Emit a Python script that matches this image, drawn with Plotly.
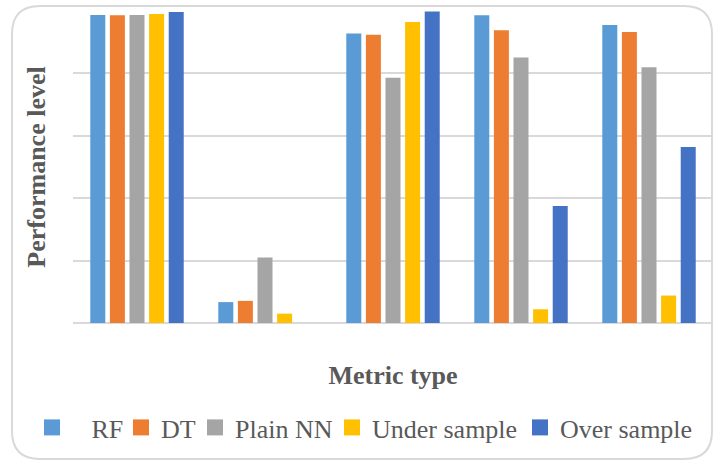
import plotly.graph_objects as go

# ---- data ----
categories = ["Metric 1", "Metric 2", "Metric 3", "Metric 4", "Metric 5"]
series_names = ["RF", "DT", "Plain NN", "Under sample", "Over sample"]
rf = [0.987, 0.067, 0.928, 0.986, 0.955]
dt = [0.986, 0.071, 0.924, 0.938, 0.933]
plain_nn = [0.987, 0.210, 0.786, 0.851, 0.820]
under_sample = [0.990, 0.030, 0.965, 0.044, 0.088]
over_sample = [0.997, 0.0, 0.998, 0.375, 0.564]
y_ticks = [0, 0.2, 0.4, 0.6, 0.8, 1.0]

series_values = [rf, dt, plain_nn, under_sample, over_sample]
colors = ["#5B9BD5", "#ED7D31", "#A5A5A5", "#FFC000", "#4472C4"]
legend_labels = ["\u00a0\u00a0\u00a0RF", "DT", "Plain NN", "Under sample", "Over sample"]
legend_symbol_px = [52, 141, 215, 352, 540]   # legend entry positions (pixels)

FONT = "Liberation Serif, Times New Roman, serif"
W, H = 714, 461
ML, MR, MT, MB = 73, 1, 11, 138
PW, PH = W - ML - MR, H - MT - MB

def fx(p):
    return (p - ML) / PW

def fy(p):
    return (H - MB - p) / PH

fig = go.Figure()
for name, vals, col in zip(series_names, series_values, colors):
    fig.add_trace(go.Bar(x=categories, y=vals, name=name, marker_color=col,
                         marker_line_width=0, showlegend=False, legendgroup=name))

legend_layouts = {}
for i, (name, lab, col, sx) in enumerate(zip(series_names, legend_labels, colors, legend_symbol_px)):
    key = "legend" if i == 0 else f"legend{i + 1}"
    fig.add_trace(go.Scatter(x=[None], y=[None], mode="markers", name=lab,
                             legendgroup=name, legend=key,
                             marker=dict(symbol="square", size=16, color=col)))
    legend_layouts[key] = dict(orientation="h", x=fx(sx - 20), xanchor="left",
                               y=fy(427.5), yanchor="middle",
                               font=dict(family=FONT, size=26, color="#595959"),
                               bgcolor="rgba(0,0,0,0)", itemwidth=30)

# rounded frame around the whole chart (pixel -> paper)
x0, y0, x1, y1, r = 12, 6, 712, 459, 28
pts = [
    ("M", [(x0 + r, y0)]), ("L", [(x1 - r, y0)]), ("Q", [(x1, y0), (x1, y0 + r)]),
    ("L", [(x1, y1 - r)]), ("Q", [(x1, y1), (x1 - r, y1)]), ("L", [(x0 + r, y1)]),
    ("Q", [(x0, y1), (x0, y1 - r)]), ("L", [(x0, y0 + r)]), ("Q", [(x0, y0), (x0 + r, y0)]),
]
path = " ".join(c + " " + " ".join(f"{fx(a):.5f},{fy(b):.5f}" for a, b in ps) for c, ps in pts) + " Z"

fig.update_layout(
    width=W, height=H, autosize=False,
    margin=dict(l=ML, r=MR, t=MT, b=MB),
    paper_bgcolor="white", plot_bgcolor="white",
    barmode="group", bargap=0.234, bargroupgap=0.235,
    font=dict(family=FONT, color="#595959"),
    shapes=[dict(type="path", xref="paper", yref="paper", path=path,
                 line=dict(color="#d9d9d9", width=2), layer="below")],
    xaxis=dict(showticklabels=False, showgrid=False, zeroline=False, showline=False,
               ticks="",
               title=dict(text="<b>Metric type</b>", standoff=42,
                          font=dict(family=FONT, size=26, color="#595959"))),
    yaxis=dict(range=[0, 1.0], tickvals=y_ticks, showticklabels=False,
               showgrid=True, gridcolor="#d9d9d9", gridwidth=2,
               zeroline=True, zerolinecolor="#d9d9d9", zerolinewidth=2,
               showline=False, ticks="",
               title=dict(text="<b>Performance level</b>", standoff=18,
                          font=dict(family=FONT, size=26, color="#595959"))),
    **legend_layouts,
)

fig.write_html("out.html")
